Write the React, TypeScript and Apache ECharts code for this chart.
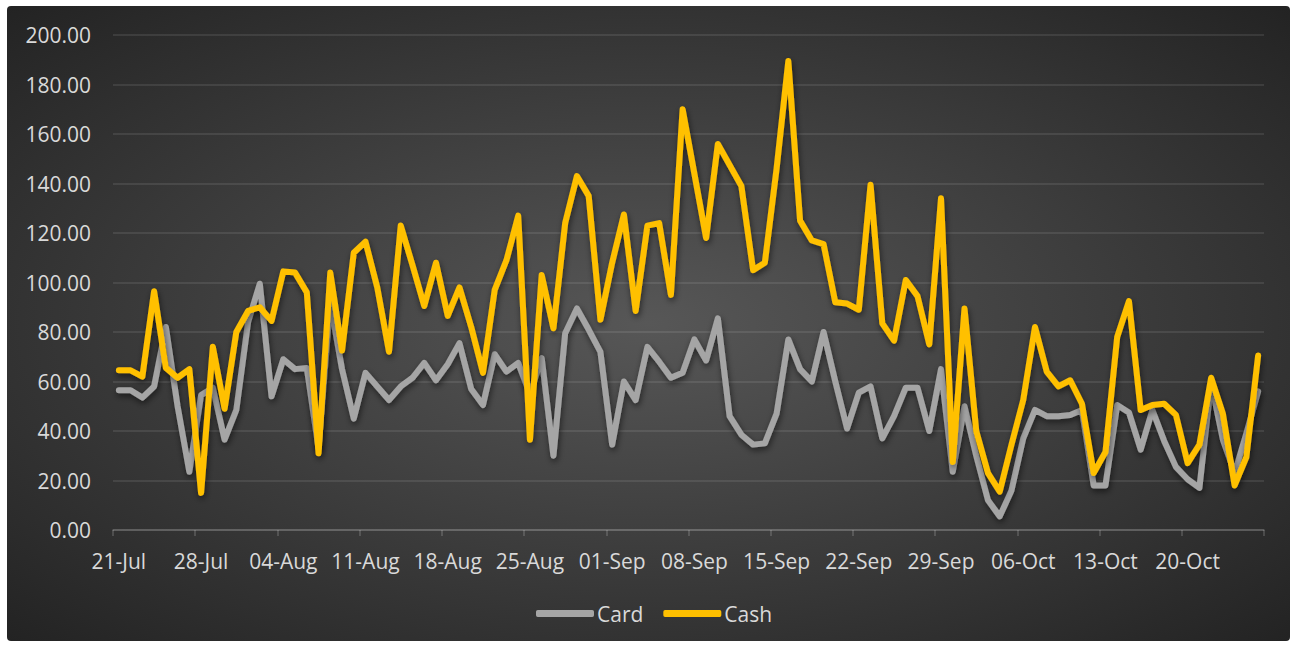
import React, { useEffect, useRef } from "react";
import * as echarts from "echarts";

const START_DATE = { year: 2019, month: 6, day: 21 }; // 21-Jul
const MONTHS = ["Jan", "Feb", "Mar", "Apr", "May", "Jun", "Jul", "Aug", "Sep", "Oct", "Nov", "Dec"];

const cardValues = [
  56.5, 56.5, 53.5, 58, 82, 50, 23.5, 54.5, 57.5, 36.5, 48.5, 84, 99.5, 54,
  69, 65, 65.5, 33, 92, 65, 45, 63.5, 58, 52.5, 58, 61.5, 67.5, 60.5,
  67, 75.5, 57, 50.5, 71, 64, 67.5, 55, 69.5, 30, 79.5, 89.5, 81, 72,
  34.5, 60, 52.5, 74, 68, 61.5, 63.5, 77, 68.5, 85.5, 46, 38.5, 34.5, 35,
  47, 77, 65, 60, 80, 60, 41, 55.5, 58, 37, 46, 57.5, 57.5, 40,
  65, 23.5, 50, 30, 12, 5.5, 16, 37, 48.5, 46, 46, 46.5, 48.5, 18,
  18, 50.5, 47.5, 32.5, 48.5, 36, 25.5, 20.5, 17, 59.5, 36.5, 23, 39, 56,
];

const cashValues = [
  64.5, 64.5, 62, 96.5, 65.5, 61.5, 65, 15, 74, 49, 80, 88.5, 90, 84.5,
  104.5, 104, 96, 31, 104, 72.5, 112, 116.5, 98, 72, 123, 107, 90.5, 108,
  86.5, 98, 82, 63.5, 97, 109, 127, 36.5, 103, 81.5, 124, 143, 135, 85,
  108, 127.5, 88.5, 123, 124, 95, 170, 144, 118, 156, 147.5, 139, 105, 108,
  146, 189.5, 125, 117, 115.5, 92, 91.5, 89, 139.5, 83.5, 76.5, 101, 94.5, 75,
  134, 27.5, 89.5, 40, 23, 15.5, 34.5, 52.5, 82, 64, 58, 60.5, 51, 23,
  31.5, 78, 92.5, 48.5, 50.5, 51, 46.5, 27, 34.5, 61.5, 47, 18, 29.5, 70.5,
];

const dateLabels: string[] = cardValues.map((_, i) => {
  const d = new Date(START_DATE.year, START_DATE.month, START_DATE.day + i);
  const dd = String(d.getDate()).padStart(2, "0");
  return `${dd}-${MONTHS[d.getMonth()]}`;
});

const FONT = "'Open Sans', 'Liberation Sans', sans-serif";

export default function App() {
  const ref = useRef<HTMLDivElement>(null);

  useEffect(() => {
    if (!ref.current) return;
    const chart = echarts.init(ref.current, undefined, { renderer: "svg" });
    const shadow = {
      shadowColor: "rgba(0,0,0,0.55)",
      shadowBlur: 6,
      shadowOffsetX: 1,
      shadowOffsetY: 3,
    };
    chart.setOption({
      animation: false,
      backgroundColor: "#ffffff",
      graphic: [
        {
          type: "rect",
          z: -10,
          silent: true,
          shape: { x: 7, y: 6, width: 1283, height: 635, r: 4 },
          style: {
            fill: new echarts.graphic.RadialGradient(0.5, 0.5, 0.72, [
              { offset: 0, color: "#575757" },
              { offset: 1, color: "#222222" },
            ]),
          },
        },
      ],
      grid: { left: 113, right: 32, top: 35, bottom: 117, containLabel: false },
      legend: {
        data: [
          { name: "Card", icon: "roundRect", itemStyle: { color: "#A5A5A5", borderWidth: 0 } },
          { name: "Cash", icon: "roundRect", itemStyle: { color: "#FFC000", borderWidth: 0 } },
        ],
        top: 598,
        left: 531,
        itemWidth: 58,
        itemHeight: 7,
        itemGap: 20,
        textStyle: { color: "#d9d9d9", fontSize: 21, fontFamily: FONT, padding: [0, 0, 0, -2] },
      },
      xAxis: {
        type: "category",
        data: dateLabels,
        boundaryGap: true,
        axisLine: { show: true, lineStyle: { color: "rgba(255,255,255,0.2)", width: 1.5 } },
        axisTick: { show: true, interval: 6, length: 6, lineStyle: { color: "rgba(255,255,255,0.2)", width: 1.5 } },
        axisLabel: {
          interval: 6,
          color: "#d9d9d9",
          fontSize: 21,
          fontFamily: FONT,
          margin: 20,
        },
        splitLine: { show: false },
      },
      yAxis: {
        type: "value",
        min: 0,
        max: 200,
        interval: 20,
        axisLine: { show: false },
        axisTick: { show: false },
        axisLabel: {
          color: "#d9d9d9",
          fontSize: 21,
          fontFamily: FONT,
          margin: 22,
          formatter: (v: number) => v.toFixed(2),
        },
        splitLine: { lineStyle: { color: "rgba(255,255,255,0.12)", width: 1.5 } },
      },
      series: [
        {
          name: "Card",
          type: "line",
          data: cardValues,
          symbol: "none",
          z: 2,
          itemStyle: { color: "#A5A5A5" },
          lineStyle: { color: "#A5A5A5", width: 6, cap: "round", join: "round", ...shadow },
        },
        {
          name: "Cash",
          type: "line",
          data: cashValues,
          symbol: "none",
          z: 3,
          itemStyle: { color: "#FFC000" },
          lineStyle: { color: "#FFC000", width: 6, cap: "round", join: "round", ...shadow },
        },
      ],
    });
    return () => chart.dispose();
  }, []);

  return (
    <div
      ref={ref}
      style={{ position: "absolute", left: 0, top: 0, width: 1296, height: 647 }}
    />
  );
}
